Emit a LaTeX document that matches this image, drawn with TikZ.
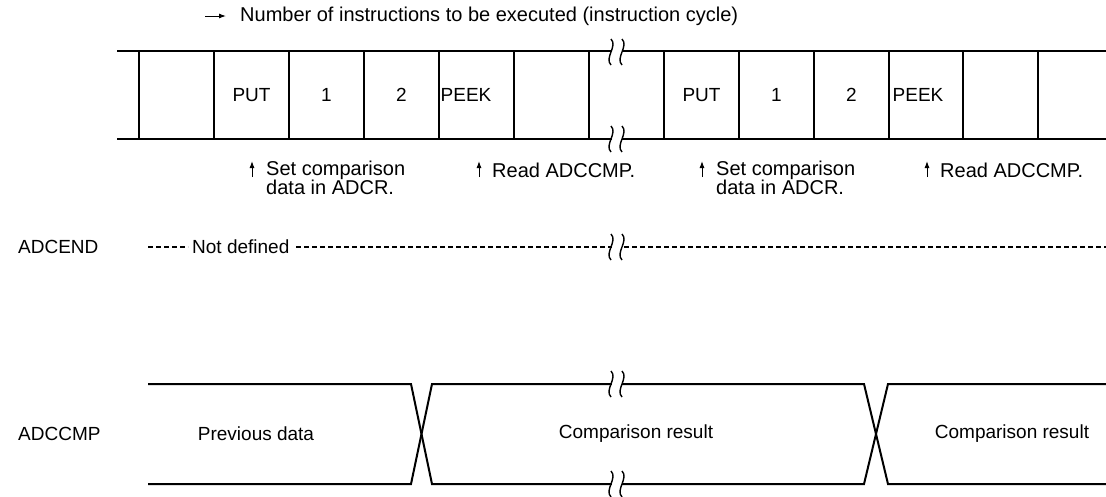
\documentclass[tikz,border=0pt]{standalone}
\usepackage{fontspec}
\setmainfont{Liberation Sans}
\usetikzlibrary{arrows.meta}

% break symbol on a horizontal line at (#1,#2): two wavy strokes with a gap
\newcommand\brkmark[2]{%
  \fill[white] (#1-5,#2-4) rectangle (#1+5,#2+4);
  \draw[line width=1.4pt] (#1-6,#2-13) .. controls (#1+1,#2-6) and (#1-13,#2+6) .. (#1-6,#2+13);
  \draw[line width=1.4pt] (#1+5,#2-13) .. controls (#1+12,#2-6) and (#1-2,#2+6) .. (#1+5,#2+13);
}

\tikzset{
  lbl/.style={inner sep=0pt, font=\fontsize{19pt}{22pt}\selectfont},
  notelbl/.style={inner sep=0pt, font=\fontsize{20pt}{23pt}\selectfont},
  headlbl/.style={inner sep=0pt, font=\fontsize{20pt}{23pt}\selectfont},
  busline/.style={line width=2.6pt},
  cellsep/.style={line width=1.2pt},
  sigline/.style={line width=2pt, line join=miter},
  undef/.style={line width=1.1pt, dash pattern=on 5pt off 3pt},
  smallarrow/.style={line width=1pt, -{Latex[length=7pt,width=5pt]}},
}

\begin{document}
\begin{tikzpicture}[x=1pt,y=-1pt]
\useasboundingbox (0,0) rectangle (1106,496);

% ---- heading ----
\coordinate (ta0) at (205,16);
\coordinate (ta1) at (226,16);
\draw[smallarrow] (ta0) -- (ta1);
\node[headlbl, anchor=west] (title) at (240,16) {Number of instructions to be executed (instruction cycle)};

% ---- instruction cycle bus ----
\draw[busline] (117,51) -- (1106,51);
\draw[busline] (117,139) -- (1106,139);
\foreach \x in {139,214,289,364,439,514,589,664,739,814,889,963,1038}
  \draw[cellsep] (\x,51) -- (\x,139);
\brkmark{617}{52}
\brkmark{617}{139}

\node[lbl] (put1)  at (251.5,95) {PUT};
\node[lbl] (one1)  at (326.5,95) {1};
\node[lbl] (two1)  at (401.5,95) {2};
\node[lbl] (peek1) at (466,95)   {PEEK};
\node[lbl] (put2)  at (701.5,95) {PUT};
\node[lbl] (one2)  at (776.5,95) {1};
\node[lbl] (two2)  at (851.5,95) {2};
\node[lbl] (peek2) at (918,95)   {PEEK};

% ---- annotations under the bus ----
\coordinate (s1b) at (252,177); \coordinate (s1t) at (252,161);
\draw[smallarrow] (s1b) -- (s1t);
\node[notelbl, anchor=west] (set1a) at (266,170) {Set comparison};
\node[notelbl, anchor=west] (set1b) at (266,187) {data in ADCR.};

\coordinate (r1b) at (479,177); \coordinate (r1t) at (479,161);
\draw[smallarrow] (r1b) -- (r1t);
\node[notelbl, anchor=west] (read1) at (492,170) {Read ADCCMP.};

\coordinate (s2b) at (702,177); \coordinate (s2t) at (702,161);
\draw[smallarrow] (s2b) -- (s2t);
\node[notelbl, anchor=west] (set2a) at (716,170) {Set comparison};
\node[notelbl, anchor=west] (set2b) at (716,187) {data in ADCR.};

\coordinate (r2b) at (927,177); \coordinate (r2t) at (927,161);
\draw[smallarrow] (r2b) -- (r2t);
\node[notelbl, anchor=west] (read2) at (940,170) {Read ADCCMP.};

% ---- ADCEND ----
\node[lbl, anchor=west] (adcend) at (18,247) {ADCEND};
\coordinate (e0) at (148,247);
\coordinate (e1) at (188,247);
\node[lbl, anchor=west] (notdef) at (192,247) {Not defined};
\coordinate (e2) at (296,247);
\coordinate (e3) at (1106,247);
\draw[undef] (e0) -- (e1);
\draw[undef] (e2) -- (e3);
\brkmark{617}{247}

% ---- ADCCMP ----
\node[lbl, anchor=west] (adccmp) at (18,434) {ADCCMP};
\draw[sigline] (148,384) -- (411,384) -- (432,484) -- (864,484) -- (888,384) -- (1106,384);
\draw[sigline] (148,484) -- (411,484) -- (432,384) -- (864,384) -- (888,484) -- (1106,484);
\brkmark{617}{384}
\brkmark{617}{484}
\node[lbl] (prev) at (256,434) {Previous data};
\node[lbl] (cmp1) at (636,434) {Comparison result};
\node[lbl] (cmp2) at (1012,434) {Comparison result};
\end{tikzpicture}
\end{document}
